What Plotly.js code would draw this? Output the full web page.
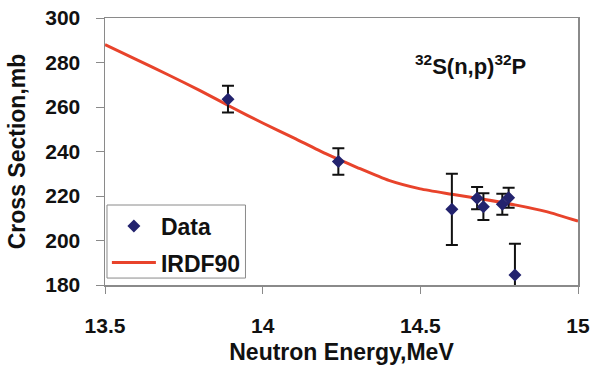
<!DOCTYPE html>
<html>
<head>
<meta charset="utf-8">
<script src="https://cdn.plot.ly/plotly-3.0.1.min.js"></script>
<style>
  html, body { margin: 0; padding: 0; background: #ffffff; }
  #chart { width: 595px; height: 371px; }
</style>
</head>
<body>
<div id="chart"></div>
<script>
// Measured 32S(n,p)32P cross sections with uncertainties
const energyMeV = [13.89, 14.24, 14.60, 14.68, 14.70, 14.76, 14.78, 14.80];
const crossSectionMb = [263.5, 235.5, 214.0, 219.0, 215.2, 216.3, 219.2, 184.5];
const errorMb = [6, 6, 16, 5, 6, 4.7, 4.5, 14];

// IRDF90 evaluated excitation function
const irdfEnergy = [13.5, 13.6, 13.7, 13.8, 13.9, 14.0, 14.1, 14.2, 14.3, 14.4, 14.5, 14.6, 14.7, 14.8, 14.9, 15.0];
const irdfCrossSection = [288, 281.3, 274.5, 267.5, 260, 252.8, 246, 239, 232.8, 227, 223.2, 220.8, 218.5, 216, 213, 208.7];

// Axis ticks
const xTicks = [13.5, 14, 14.5, 15];
const xTickText = ['13.5', '14', '14.5', '15'];
const yTicks = [180, 200, 220, 240, 260, 280, 300];

const FONT = 'Liberation Sans, Arial, sans-serif';
const AXIS_GREY = '#8a8a8a';
const INK = '#111111';

const traces = [
  {
    x: irdfEnergy,
    y: irdfCrossSection,
    mode: 'lines',
    name: 'IRDF90',
    legend: 'legend2',
    line: { color: '#e8432b', width: 3, shape: 'spline', smoothing: 0.6 },
    hoverinfo: 'skip'
  },
  {
    x: energyMeV,
    y: crossSectionMb,
    mode: 'markers',
    name: 'Data',
    legend: 'legend',
    marker: { symbol: 'diamond', size: 10, color: '#23236e' },
    error_y: { type: 'data', array: errorMb, visible: true, color: INK, thickness: 2, width: 6 }
  }
];

const legendFont = { family: FONT, size: 23, weight: 'bold', color: INK };

const layout = {
  width: 595,
  height: 371,
  margin: { l: 105, r: 17, t: 18, b: 86 },
  paper_bgcolor: '#ffffff',
  plot_bgcolor: '#ffffff',
  font: { family: FONT, color: INK, size: 21, weight: 'bold' },
  showlegend: true,
  // one legend per entry, framed together by the box shape below
  legend: {
    x: 0.004, y: 0.221, xanchor: 'left', yanchor: 'middle',
    bgcolor: 'rgba(0,0,0,0)', borderwidth: 0, itemwidth: 44,
    font: legendFont
  },
  legend2: {
    x: 0.004, y: 0.084, xanchor: 'left', yanchor: 'middle',
    bgcolor: 'rgba(0,0,0,0)', borderwidth: 0, itemwidth: 44,
    font: legendFont
  },
  shapes: [
    {
      type: 'rect', xref: 'paper', yref: 'paper', layer: 'below',
      x0: 0.0042, x1: 0.297, y0: 0.026, y1: 0.2996,
      line: { color: AXIS_GREY, width: 1 }, fillcolor: '#ffffff'
    }
  ],
  xaxis: {
    range: [13.5, 15],
    tickvals: xTicks,
    ticktext: xTickText,
    ticks: 'outside', ticklen: 7, tickwidth: 1, tickcolor: AXIS_GREY,
    ticklabelstandoff: 14,
    showgrid: false, zeroline: false,
    showline: true, mirror: true, linecolor: AXIS_GREY, linewidth: 1.5,
    tickfont: { family: FONT, size: 21, weight: 'bold', color: INK },
    title: { text: 'Neutron Energy,MeV', standoff: 8, font: { family: FONT, size: 23, weight: 'bold', color: INK } }
  },
  yaxis: {
    range: [180, 300],
    tickvals: yTicks,
    ticks: 'outside', ticklen: 8, tickwidth: 1, tickcolor: AXIS_GREY,
    ticklabelstandoff: 11,
    showgrid: false, zeroline: false,
    showline: true, mirror: true, linecolor: AXIS_GREY, linewidth: 1.5,
    tickfont: { family: FONT, size: 21, weight: 'bold', color: INK },
    title: { text: 'Cross Section,mb', standoff: 13, font: { family: FONT, size: 23, weight: 'bold', color: INK } }
  },
  annotations: [
    {
      x: 14.66, y: 279, xref: 'x', yref: 'y',
      text: '<sup>32</sup>S(n,p)<sup>32</sup>P',
      showarrow: false,
      font: { family: FONT, size: 22, weight: 'bold', color: INK }
    }
  ]
};

Plotly.newPlot('chart', traces, layout, { displayModeBar: false, staticPlot: true });
</script>
</body>
</html>
